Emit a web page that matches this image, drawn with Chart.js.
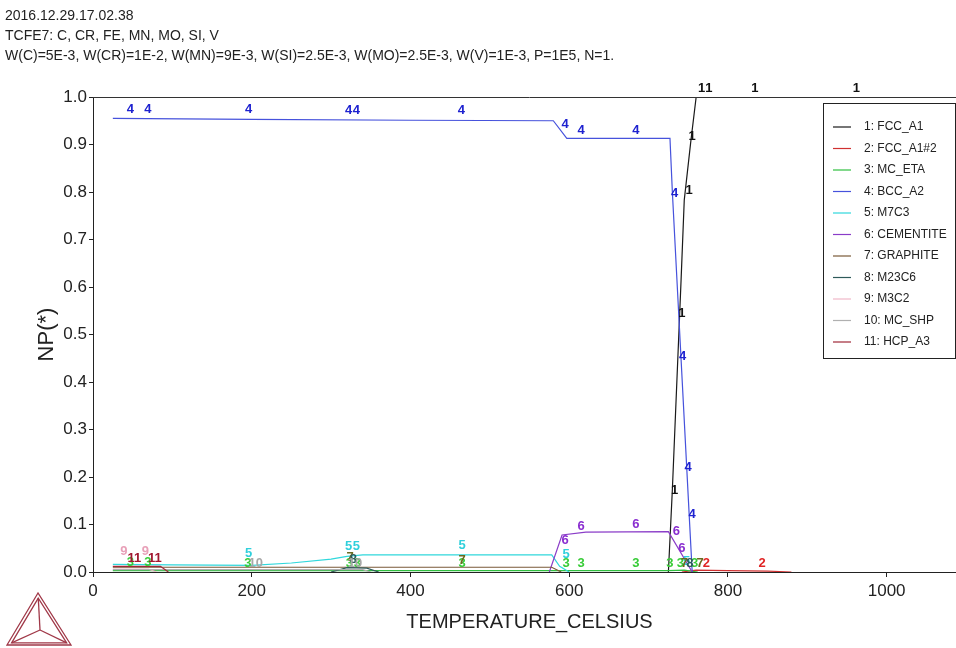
<!DOCTYPE html>
<html lang="en">
<head>
<meta charset="UTF-8">
<title>NP(*) vs temperature</title>
<script src="https://cdn.jsdelivr.net/npm/chart.js"></script>
<style>
    html, body { margin: 0; padding: 0; background: #fff; overflow: hidden; }
    #page { position: relative; width: 956px; height: 648px; overflow: hidden; }
    #header { position: absolute; left: 5px; top: 5px; font-family: Arial, "Liberation Sans", sans-serif; font-size: 14px; color: #222; line-height: 20px; }
    #chartBox { position: absolute; left: 0; top: 0; width: 970px; height: 648px; }
</style>
</head>
<body>
<div id="page">
    <div id="chartBox"><canvas id="npChart" width="970" height="648"></canvas></div>
    <div id="header">
        <div>2016.12.29.17.02.38</div>
        <div>TCFE7: C, CR, FE, MN, MO, SI, V</div>
        <div>W(C)=5E-3, W(CR)=1E-2, W(MN)=9E-3, W(SI)=2.5E-3, W(MO)=2.5E-3, W(V)=1E-3, P=1E5, N=1.</div>
    </div>
</div>

<script>
// phase names, in calculation order
const phaseNames = ['1: FCC_A1', '2: FCC_A1#2', '3: MC_ETA', '4: BCC_A2', '5: M7C3', '6: CEMENTITE',
    '7: GRAPHITE', '8: M23C6', '9: M3C2', '10: MC_SHP', '11: HCP_A3'];
const lineColors = ['#1a1a1a', '#d03030', '#30c040', '#4652dc', '#30d8dc', '#8a3cc8',
    '#7a5a38', '#2e5a5a', '#f0b8c8', '#b0b0b0', '#a02838'];
const labelColors = ['#111111', '#e02424', '#38cc38', '#1e22d0', '#30d0dc', '#8a2ed0',
    '#6a6a20', '#2e5a5a', '#e8a0b8', '#a8a8a8', '#a01830'];

// temperature (C) and NP(*) per phase
const fccT   = [725, 730, 741, 745, 753, 760, 1100];
const fccNP  = [0, 0.173, 0.615, 0.783, 0.903, 1.0, 1.0];
const fcc2T  = [742, 760, 800, 850, 880];
const fcc2NP = [0, 0.004, 0.003, 0.002, 0];
const etaT   = [25, 300, 580, 725, 745, 762];
const etaNP  = [0.003, 0.003, 0.003, 0.003, 0.004, 0];
const bccT   = [25, 200, 400, 580, 597, 727, 730, 752, 755];
const bccNP  = [0.955, 0.953, 0.951, 0.950, 0.913, 0.913, 0.80, 0.095, 0];
const m7c3T  = [25, 100, 200, 250, 300, 320, 340, 578, 588, 600];
const m7c3NP = [0.016, 0.015, 0.014, 0.019, 0.027, 0.033, 0.036, 0.036, 0.012, 0];
const cemT   = [575, 591, 621, 725, 755];
const cemNP  = [0, 0.078, 0.084, 0.085, 0];
const graT   = [25, 578, 590];
const graNP  = [0.010, 0.010, 0];
const m23T   = [300, 320, 345, 360];
const m23NP  = [0, 0.009, 0.008, 0];
const m3c2T  = [25, 70, 80];
const m3c2NP = [0.006, 0.006, 0];
const shpT   = [25, 200, 340, 350];
const shpNP  = [0.005, 0.005, 0.005, 0];
const hcpT   = [25, 85, 95];
const hcpNP  = [0.012, 0.012, 0];

// where the phase numbers are printed along each curve [T, NP]
const fccLabels  = [[733, 0.171], [742, 0.545], [751, 0.804], [755, 0.916], [767, 1.019], [776, 1.019], [834, 1.019], [962, 1.019]];
const fcc2Labels = [[773, 0.019], [843, 0.019]];
const etaLabels  = [[47, 0.021], [69, 0.021], [195, 0.019], [323, 0.019], [333, 0.019], [465, 0.019],
    [596, 0.019], [615, 0.019], [684, 0.019], [727, 0.019], [740, 0.019], [758, 0.019]];
const bccLabels  = [[47, 0.973], [69, 0.973], [196, 0.973], [322, 0.971], [332, 0.971], [464, 0.971],
    [595, 0.943], [615, 0.93], [684, 0.93], [733, 0.798], [743, 0.453], [750, 0.221], [755, 0.122]];
const m7c3Labels = [[196, 0.040], [322, 0.053], [332, 0.053], [465, 0.055], [596, 0.036], [748, 0.022]];
const cemLabels  = [[595, 0.067], [615, 0.097], [684, 0.101], [735, 0.086], [742, 0.050]];
const graLabels  = [[324, 0.030], [465, 0.025], [745, 0.019], [765, 0.019]];
const m23Labels  = [[328, 0.026], [752, 0.019]];
const m3c2Labels = [[39, 0.044], [66, 0.044]];
const shpLabels  = [[205, 0.019], [330, 0.019]];
const hcpLabels  = [[52, 0.028], [78, 0.028]];

const xTicks = [0, 200, 400, 600, 800, 1000];

const series = [
    [fccT, fccNP, fccLabels], [fcc2T, fcc2NP, fcc2Labels], [etaT, etaNP, etaLabels],
    [bccT, bccNP, bccLabels], [m7c3T, m7c3NP, m7c3Labels], [cemT, cemNP, cemLabels],
    [graT, graNP, graLabels], [m23T, m23NP, m23Labels], [m3c2T, m3c2NP, m3c2Labels],
    [shpT, shpNP, shpLabels], [hcpT, hcpNP, hcpLabels]
];

const datasets = series.map((s, i) => ({
    label: phaseNames[i],
    data: s[0].map((t, k) => ({ x: t, y: s[1][k] })),
    phaseLabels: s[2],
    labelText: String(i + 1),
    labelColor: labelColors[i],
    borderColor: lineColors[i],
    backgroundColor: lineColors[i],
    borderWidth: 1.2,
    pointRadius: 0,
    tension: 0,
    fill: false,
    order: 11 - i
}));

// phase numbers, frame top, legend box and logo
const decorations = {
    id: 'decorations',
    afterDatasetsDraw(chart) {
        const { ctx, scales } = chart;
        ctx.save();
        ctx.font = 'bold 13px Arial, "Liberation Sans", sans-serif';
        ctx.textAlign = 'center';
        ctx.textBaseline = 'middle';
        chart.data.datasets.forEach(ds => {
            ctx.fillStyle = ds.labelColor;
            ds.phaseLabels.forEach(p => {
                ctx.fillText(ds.labelText, scales.x.getPixelForValue(p[0]), scales.y.getPixelForValue(p[1]));
            });
        });
        ctx.restore();
    },
    afterDraw(chart) {
        const { ctx, chartArea } = chart;
        ctx.save();
        // top frame line
        ctx.strokeStyle = '#333';
        ctx.lineWidth = 1;
        ctx.beginPath();
        ctx.moveTo(chartArea.left, chartArea.top + 0.5);
        ctx.lineTo(chartArea.right, chartArea.top + 0.5);
        ctx.stroke();

        // legend box
        const bx = 823, by = 103, bw = 132, bh = 255;
        ctx.fillStyle = '#fff';
        ctx.fillRect(bx, by, bw, bh);
        ctx.strokeStyle = '#222';
        ctx.strokeRect(bx + 0.5, by + 0.5, bw, bh);
        ctx.font = '12px Arial, "Liberation Sans", sans-serif';
        ctx.textAlign = 'left';
        ctx.textBaseline = 'middle';
        chart.data.datasets.forEach((ds, i) => {
            const y = 127 + i * 21.5;
            ctx.strokeStyle = ds.borderColor;
            ctx.lineWidth = 1.2;
            ctx.beginPath();
            ctx.moveTo(833, y);
            ctx.lineTo(851, y);
            ctx.stroke();
            ctx.fillStyle = '#222';
            ctx.fillText(ds.label, 864, y);
        });

        // logo triangle
        const A = [38, 593], B = [7, 645], C = [71, 645], M = [40, 630];
        const shrink = (p, f) => [M[0] + (p[0] - M[0]) * f, M[1] + (p[1] - M[1]) * f];
        ctx.strokeStyle = '#a03848';
        ctx.lineWidth = 1.3;
        const tri = pts => {
            ctx.beginPath();
            ctx.moveTo(pts[0][0], pts[0][1]);
            ctx.lineTo(pts[1][0], pts[1][1]);
            ctx.lineTo(pts[2][0], pts[2][1]);
            ctx.closePath();
            ctx.stroke();
        };
        tri([A, B, C]);
        tri([shrink(A, 0.86), shrink(B, 0.86), shrink(C, 0.86)]);
        [A, B, C].forEach(p => {
            const q = shrink(p, 0.86);
            ctx.beginPath();
            ctx.moveTo(q[0], q[1]);
            ctx.lineTo(M[0], M[1]);
            ctx.stroke();
        });
        ctx.restore();
    }
};

new Chart(document.getElementById('npChart'), {
    type: 'line',
    data: { datasets },
    options: {
        responsive: false,
        animation: false,
        layout: { padding: { left: 30, top: 97, right: 4, bottom: 0 } },
        plugins: { legend: { display: false }, tooltip: { enabled: false } },
        scales: {
            x: {
                type: 'linear',
                min: 0,
                max: 1100,
                afterFit: s => { s.height = 76; },
                afterBuildTicks: s => { s.ticks = xTicks.map(v => ({ value: v })); },
                grid: { drawOnChartArea: false, drawTicks: true, tickLength: 5, color: '#222' },
                border: { display: true, color: '#222', width: 1 },
                ticks: {
                    color: '#222',
                    padding: 4,
                    maxRotation: 0,
                    callback: v => String(v),
                    font: { family: 'Arial, "Liberation Sans", sans-serif', size: 17 }
                },
                title: {
                    display: true,
                    text: 'TEMPERATURE_CELSIUS',
                    color: '#222',
                    padding: { top: 4, bottom: 14 },
                    font: { family: 'Arial, "Liberation Sans", sans-serif', size: 20 }
                }
            },
            y: {
                min: 0,
                max: 1,
                afterFit: s => { s.width = 63; },
                grid: { drawOnChartArea: false, drawTicks: true, tickLength: 4, color: '#222' },
                border: { display: true, color: '#222', width: 1 },
                ticks: {
                    stepSize: 0.1,
                    color: '#222',
                    padding: 2,
                    callback: v => v.toFixed(1),
                    font: { family: 'Arial, "Liberation Sans", sans-serif', size: 17 }
                },
                title: {
                    display: true,
                    text: 'NP(*)',
                    color: '#222',
                    padding: { top: 4, bottom: 4 },
                    font: { family: 'Arial, "Liberation Sans", sans-serif', size: 22 }
                }
            }
        }
    },
    plugins: [decorations]
});
</script>
</body>
</html>
